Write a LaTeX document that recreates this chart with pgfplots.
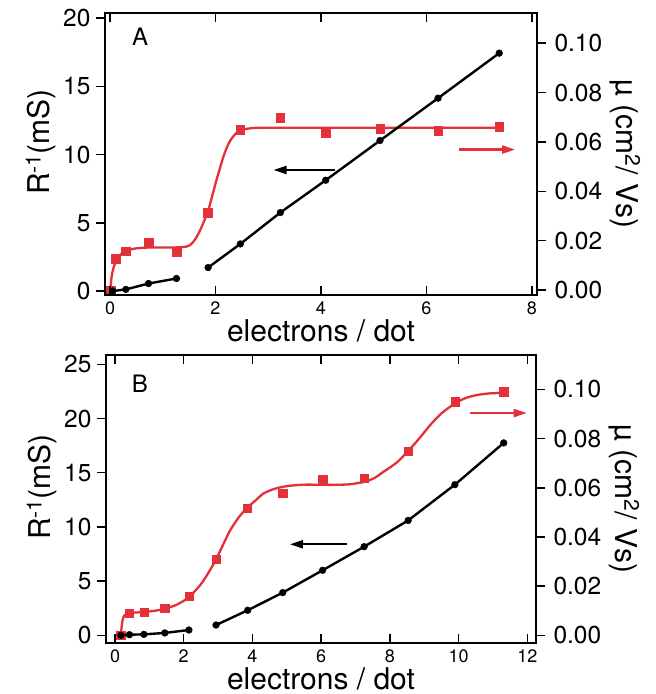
\documentclass[border=0pt]{standalone}
\usepackage{fontspec}
\setmainfont{TeX Gyre Heros}
\usepackage{pgfplots}
\pgfplotsset{compat=1.18}
\usetikzlibrary{arrows.meta}
\definecolor{myred}{RGB}{228,48,56}

\pgfplotsset{
  common/.style={
    scale only axis,
    /pgf/number format/assume math mode=true,
    axis line style={line width=1.5pt},
    every tick/.style={line width=1.5pt, black},
    major tick length=9pt,
    xticklabel style={font=\fontsize{18}{19}\selectfont, inner sep=0.5pt, yshift=-6.5pt},
  },
  leftax/.style={
    common,
    xtick align=inside, ytick align=outside,
    ytick pos=left,
    yticklabel style={font=\fontsize{24.5}{27}\selectfont, xshift=-2pt},
    every axis x label/.style={at={(axis description cs:0.5,0)}, yshift=-46pt, anchor=base, inner sep=0pt, font=\fontsize{30}{34}\selectfont},
    every axis y label/.style={at={(axis description cs:0,0.5)}, xshift=-64pt, yshift=12pt, rotate=90, anchor=center, font=\fontsize{30}{34}\selectfont},
    xlabel={electrons / dot},
    ylabel={R\textsuperscript{-1}(mS)},
  },
  rightax/.style={
    common,
    axis x line=none, axis y line*=right,
    ytick align=outside,
    ytick={0,0.02,0.04,0.06,0.08,0.1},
    yticklabel style={font=\fontsize{24.5}{27}\selectfont, xshift=5pt, /pgf/number format/.cd, fixed, fixed zerofill, precision=2},
    every axis y label/.style={at={(axis description cs:1,0.5)}, xshift=88pt, rotate=-90, anchor=center, font=\fontsize{30}{34}\selectfont},
    ylabel={µ (cm\textsuperscript{2}/ Vs)},
  },
  blk/.style={black, line width=2.4pt, mark=*, mark size=3.4pt, mark options={solid, line width=0.4pt}},
  rsq/.style={only marks, myred, mark=square*, mark size=4.2pt, mark options={line width=0.3pt}},
  rcurve/.style={myred, line width=2.3pt, no marks, smooth, tension=0.4},
}

\begin{document}
\begin{tikzpicture}
% ---------------- Panel A -----------------
\begin{axis}[rightax, at={(105pt,-295pt)}, anchor=south west, width=432pt, height=282pt,
  xmin=-0.095, xmax=8.096, ymin=-0.002, ymax=0.1122]
\addplot[rcurve] coordinates {(0,-0.0014) (0.03,0.0054) (0.06,0.0085) (0.095,0.0108) (0.14,0.0128) (0.19,0.0142) (0.25,0.0152) (0.32,0.016) (0.4,0.0165) (0.5,0.0169) (0.7,0.0172) (1.0,0.0172) (1.3,0.0173) (1.45,0.0176) (1.52,0.0182) (1.62,0.0207) (1.71,0.0243) (1.85,0.0314) (1.93,0.0375) (2.01,0.0439) (2.08,0.049) (2.15,0.054) (2.23,0.0585) (2.31,0.0615) (2.39,0.0635) (2.47,0.0646) (2.56,0.0652) (2.66,0.0655) (2.8,0.0657) (3.5,0.0657) (5.0,0.0657) (7.44,0.0657)};
\addplot[rsq] coordinates {(0.01,0) (0.11,0.0127) (0.30,0.0157) (0.73,0.0192) (1.26,0.0155) (1.85,0.0314) (2.47,0.065) (3.23,0.0699) (4.09,0.0638) (5.12,0.0654) (6.22,0.0646) (7.38,0.0661)};
\draw[myred, line width=2.2pt, -{Triangle[length=13pt,width=8pt]}] (axis cs:6.62,0.0569) -- (axis cs:7.68,0.0569);
\end{axis}
\begin{axis}[leftax, at={(105pt,-295pt)}, anchor=south west, width=432pt, height=282pt,
  xmin=-0.095, xmax=8.096, ymin=-0.29, ymax=20.37,
  xtick={0,2,4,6,8}, ytick={0,5,10,15,20}]
\addplot[blk] coordinates {(0.05,0) (0.30,0.12) (0.73,0.55) (1.26,0.92)};
\addplot[blk] coordinates {(1.86,1.72) (2.47,3.45) (3.23,5.75) (4.09,8.12) (5.12,11.03) (6.22,14.13) (7.38,17.43)};
\draw[black, line width=2.2pt, -{Triangle[length=13pt,width=8pt]}] (axis cs:4.27,8.87) -- (axis cs:3.1,8.87);
\node[anchor=north west, inner sep=0pt, font=\fontsize{24}{26}\selectfont] at (axis description cs:0.0625,0.947) {A};
\end{axis}
% ---------------- Panel B -----------------
\begin{axis}[rightax, at={(106pt,-643pt)}, anchor=south west, width=430pt, height=288pt,
  xmin=-0.262, xmax=12.25, ymin=-0.0031, ymax=0.114]
\addplot[rcurve] coordinates {(0.17,0) (0.19,0.003) (0.22,0.0062) (0.26,0.0079) (0.32,0.0087) (0.42,0.0091) (0.6,0.0093) (0.84,0.0095) (1.2,0.0101) (1.45,0.0108) (1.8,0.0125) (2.15,0.0155) (2.5,0.0208) (2.75,0.0262) (2.94,0.0309) (3.15,0.037) (3.35,0.0427) (3.6,0.048) (3.84,0.0518) (4.1,0.055) (4.32,0.0577) (4.6,0.0594) (4.88,0.0604) (5.2,0.061) (5.58,0.0613) (6.26,0.0612) (6.8,0.0614) (7.25,0.0624) (7.55,0.064) (7.81,0.0665) (8.2,0.0703) (8.53,0.075) (8.85,0.080) (9.17,0.0855) (9.5,0.0903) (9.89,0.0943) (10.2,0.0965) (10.52,0.0977) (10.9,0.0984) (11.31,0.0986)};
\addplot[rsq] coordinates {(0.17,0) (0.42,0.0091) (0.84,0.0095) (1.45,0.0111) (2.15,0.016) (2.94,0.0309) (3.84,0.0518) (4.88,0.0579) (6.04,0.0636) (7.25,0.0639) (8.53,0.075) (9.89,0.095) (11.31,0.0991)};
\draw[myred, line width=2.2pt, -{Triangle[length=13pt,width=8pt]}] (axis cs:10.33,0.0904) -- (axis cs:11.98,0.0904);
\end{axis}
\begin{axis}[leftax, at={(106pt,-643pt)}, anchor=south west, width=430pt, height=288pt,
  xmin=-0.262, xmax=12.25, ymin=-0.708, ymax=25.86,
  xtick={0,2,4,6,8,10,12}, ytick={0,5,10,15,20,25}]
\addplot[blk] coordinates {(0.17,0) (0.42,0.06) (0.84,0.09) (1.45,0.22) (2.15,0.49)};
\addplot[blk] coordinates {(2.94,0.95) (3.86,2.31) (4.88,3.94) (6.04,6.0) (7.25,8.18) (8.53,10.6) (9.89,13.9) (11.31,17.75)};
\draw[black, line width=2.2pt, -{Triangle[length=13pt,width=8pt]}] (axis cs:6.74,8.4) -- (axis cs:5.09,8.4);
\node[anchor=north west, inner sep=0pt, font=\fontsize{24}{26}\selectfont] at (axis description cs:0.06,0.93) {B};
\end{axis}
\pgfresetboundingbox
\path[use as bounding box] (0,0) rectangle (656pt,-694pt);
\end{tikzpicture}
\end{document}
